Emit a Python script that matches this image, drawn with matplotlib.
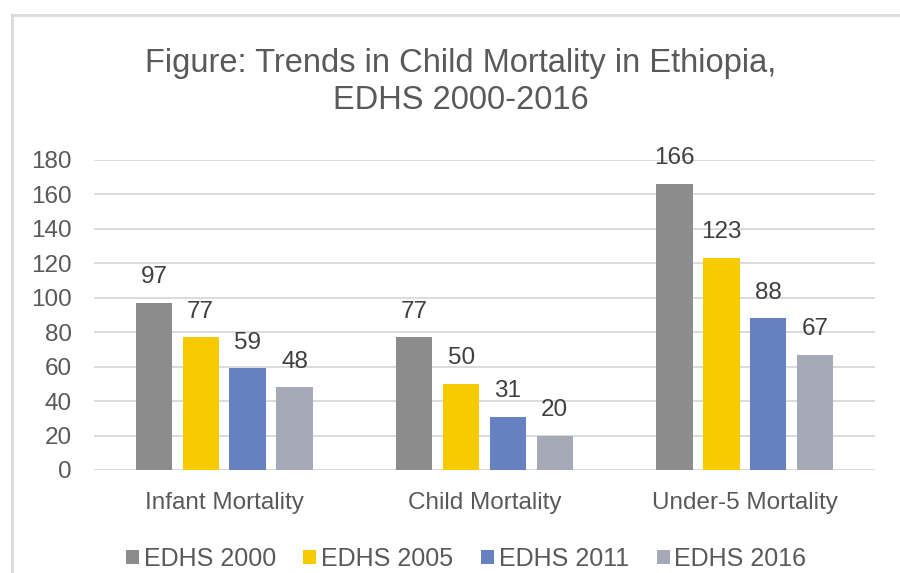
import matplotlib
matplotlib.use("Agg")
import matplotlib.pyplot as plt
import numpy as np
from matplotlib.lines import Line2D

categories = ["Infant Mortality", "Child Mortality", "Under-5 Mortality"]
series = ["EDHS 2000", "EDHS 2005", "EDHS 2011", "EDHS 2016"]
values = {
    "EDHS 2000": [97, 77, 166],
    "EDHS 2005": [77, 50, 123],
    "EDHS 2011": [59, 31, 88],
    "EDHS 2016": [48, 20, 67],
}
colors = ["#8C8C8C", "#F7CB00", "#6581BF", "#A5A9B8"]
yticks = [0, 20, 40, 60, 80, 100, 120, 140, 160, 180]

plt.rcParams['font.family'] = ['Liberation Sans', 'DejaVu Sans']
text_color = "#595959"

fig = plt.figure(figsize=(9, 5.73), dpi=100)
W, H = 900, 573
# frame (top and left edges)
fig.lines.append(Line2D([12/W, 1.0], [1 - 15/H, 1 - 15/H], transform=fig.transFigure,
                        color="#D9D9D9", linewidth=2))
fig.lines.append(Line2D([12/W, 12/W], [0, 1 - 15/H], transform=fig.transFigure,
                        color="#D9D9D9", linewidth=2))

ax = fig.add_axes([94/W, 1 - 470/H, (875-94)/W, (470-160)/H])
x = np.arange(len(categories))
bw = 0.14
step = 0.18
offsets = (np.arange(len(series)) - 1.5) * step
for i, s in enumerate(series):
    ax.bar(x + offsets[i], values[s], width=bw, color=colors[i], label=s, zorder=3)
    for xi, v in zip(x + offsets[i], values[s]):
        ax.text(xi, v + 15, str(v), ha="center", va="center", fontsize=17.5, color="#404040")

ax.set_xlim(-0.5, 2.5)
ax.set_ylim(0, 180)
ax.set_yticks(yticks)
ax.set_xticks(x)
ax.set_xticklabels(categories, fontsize=17.5, color=text_color)
ax.tick_params(axis="y", labelsize=17.5, labelcolor=text_color, length=0, pad=16)
ax.tick_params(axis="x", length=0, pad=16)
ax.grid(axis="y", color="#D9D9D9", linewidth=1.3, zorder=0)
for sp in ax.spines.values():
    sp.set_visible(False)

fig.text(461/W, 1 - 82/H, "Figure: Trends in Child Mortality in Ethiopia,\nEDHS 2000-2016",
         ha="center", va="center", fontsize=23.5, color=text_color, linespacing=1.27)

leg = fig.legend(loc="center", bbox_to_anchor=(466/W, 1 - 559/H), ncol=4, frameon=False,
                 fontsize=18, handlelength=0.52, handleheight=0.52, handletextpad=0.2,
                 columnspacing=1.1, labelcolor=text_color)

fig.savefig("out.png", dpi=100, facecolor="white")
